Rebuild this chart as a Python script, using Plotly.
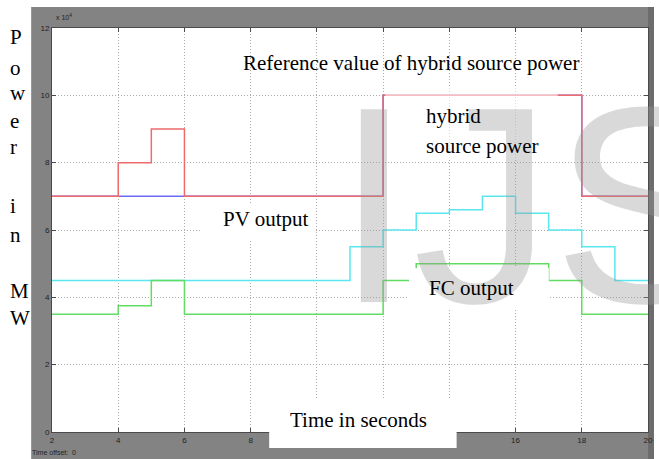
import plotly.graph_objects as go

# ---------------- data ----------------
ref_time = [2, 4, 5, 6, 12, 18, 20]
ref_power = [70000, 80000, 90000, 70000, 100000, 70000, 70000]

hybrid_time = [2, 12, 18, 20]
hybrid_power = [70000, 100000, 70000, 70000]

pv_time = [2, 11, 12, 13, 14, 15, 16, 17, 18, 19, 20]
pv_power = [45000, 55000, 60000, 65000, 66000, 70000, 65000, 60000, 55000, 45000, 45000]

fc_time = [2, 4, 5, 6, 12, 13, 17, 18, 20]
fc_power = [35000, 37500, 45000, 35000, 45000, 50000, 45000, 35000, 35000]

x_ticks = [2, 4, 6, 8, 10, 12, 14, 16, 18, 20]
x_tick_labels = ["2", "4", "6", "8", "10", "12", "14", "16", "18", "20"]
y_ticks = [0, 20000, 40000, 60000, 80000, 100000, 120000]
y_tick_labels = ["0", "2", "4", "6", "8", "10", "12"]

# ---------------- layout geometry ----------------
W, H = 659, 459
L, R, T, B = 52, 653, 28, 432
PW, PH = R - L, B - T


def px(x):
    return (x - L) / PW


def py(y):
    return (B - y) / PH


SERIF = "Liberation Serif, Times New Roman, serif"
SANS = "Liberation Sans, Arial, sans-serif"

fig = go.Figure()
fig.add_trace(go.Scatter(x=hybrid_time, y=hybrid_power, mode="lines", line_shape="hv",
                         line=dict(color="#6a6af2", width=1.5), showlegend=False))
fig.add_trace(go.Scatter(x=ref_time, y=ref_power, mode="lines", line_shape="hv",
                         line=dict(color="#ef6a6a", width=1.5), showlegend=False))
fig.add_trace(go.Scatter(x=pv_time, y=pv_power, mode="lines", line_shape="hv",
                         line=dict(color="#5ae6ee", width=1.5), showlegend=False))
fig.add_trace(go.Scatter(x=fc_time, y=fc_power, mode="lines", line_shape="hv",
                         line=dict(color="#62dc62", width=1.5), showlegend=False))

shapes = [
    # gray scope frame
    dict(type="rect", xref="paper", yref="paper", x0=px(31), x1=px(659), y0=py(459), y1=py(7),
         fillcolor="#838383", line=dict(width=0), layer="below"),
    dict(type="rect", xref="paper", yref="paper", x0=px(653), x1=px(659), y0=py(459), y1=py(7),
         fillcolor="#6c6c6c", line=dict(width=0), layer="below"),
    dict(type="rect", xref="paper", yref="paper", x0=0, x1=1, y0=0, y1=1,
         fillcolor="white", line=dict(width=0), layer="below"),
    # white text boxes
    dict(type="rect", xref="paper", yref="paper", x0=px(388), x1=px(562), y0=py(160), y1=py(88),
         fillcolor="rgba(255,255,255,0.55)", line=dict(width=0), layer="above"),
    dict(type="rect", xref="paper", yref="paper", x0=px(203), x1=px(318), y0=py(240), y1=py(204),
         fillcolor="white", line=dict(width=0), layer="above"),
    dict(type="rect", xref="paper", yref="paper", x0=px(412), x1=px(553), y0=py(310), y1=py(268),
         fillcolor="white", line=dict(width=0), layer="above"),
    dict(type="rect", xref="paper", yref="paper", x0=px(271), x1=px(460), y0=py(448), y1=py(398),
         fillcolor="white", line=dict(width=0), layer="above"),
]

annotations = []
# watermark
annotations.append(dict(text="IJS", xref="paper", yref="paper", x=px(335), y=py(205),
                        xanchor="left", yanchor="middle", showarrow=False,
                        font=dict(family=SANS, size=280, color="rgba(150,150,150,0.36)")))


def txt(s, x, y, size=21, xanchor="left", family=SERIF, color="black"):
    annotations.append(dict(text=s, xref="paper", yref="paper", x=px(x), y=py(y),
                            xanchor=xanchor, yanchor="middle", showarrow=False,
                            font=dict(family=family, size=size, color=color)))


txt("Reference value of hybrid source power", 414, 63.5, xanchor="center")
txt("hybrid", 427, 116)
txt("source power", 427, 146)
txt("PV output", 222, 219)
txt("FC output", 430, 288)
txt("Time in seconds", 290, 420)

for letter, base in [("P", 44), ("o", 75), ("w", 100), ("e", 128), ("r", 154),
                     ("i", 213), ("n", 242), ("M", 298), ("W", 325)]:
    txt(letter, 8, base - 7)

txt("x 10<sup>4</sup>", 54, 17, size=7, family=SANS, color="#222222")
txt("Time offset:  0", 30, 452, size=7, family=SANS, color="#222222")

fig.update_layout(
    width=W, height=H,
    margin=dict(l=L, r=W - R, t=T, b=H - B, pad=0),
    paper_bgcolor="white", plot_bgcolor="white",
    shapes=shapes, annotations=annotations,
    showlegend=False,
)
fig.update_xaxes(range=[2, 20], tickvals=x_ticks, ticktext=x_tick_labels,
                 showgrid=True, gridcolor="#ababab", griddash="1px,2px", gridwidth=1,
                 zeroline=False, showline=True, linecolor="#4a4a4a", linewidth=1,
                 mirror="ticks", ticks="inside", ticklen=4, tickcolor="#4a4a4a",
                 tickfont=dict(family=SANS, size=8, color="#1e1e1e"))
fig.update_yaxes(range=[0, 120000], tickvals=y_ticks, ticktext=y_tick_labels,
                 showgrid=True, gridcolor="#ababab", griddash="1px,2px", gridwidth=1,
                 zeroline=False, showline=True, linecolor="#4a4a4a", linewidth=1,
                 mirror="ticks", ticks="inside", ticklen=4, tickcolor="#4a4a4a",
                 tickfont=dict(family=SANS, size=8, color="#1e1e1e"))

fig.write_html("out.html", config={"displayModeBar": False},
               post_script="document.body.style.margin='0';document.body.style.padding='0';"
                           "document.body.style.overflow='hidden';")
